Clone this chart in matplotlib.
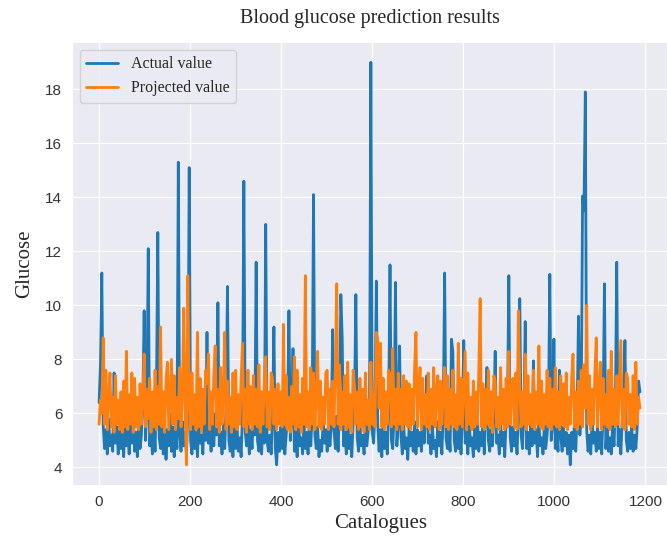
import numpy as np
import seaborn as sns
import matplotlib
matplotlib.use('Agg')
import matplotlib.pyplot as plt

# catalogue index: every 3rd sample
catalogue = np.arange(0, 1190, 3)

actual = [
    6.4, 7.8, 11.2, 5.6, 4.7, 5.4, 4.5, 5.8, 4.8, 5.2, 4.6, 7.5, 4.9, 5.5, 4.5, 5.7, 4.7, 5.3, 4.4, 5.9,
    4.8, 5.4, 4.5, 5.6, 4.9, 6.1, 4.6, 5.3, 4.4, 5.8, 4.7, 5.2, 6.4, 9.8, 5.0, 6.3, 12.1, 4.8, 5.5, 4.5,
    5.7, 4.6, 6.8, 12.7, 5.1, 4.7, 5.6, 4.5, 5.9, 4.3, 5.4, 4.8, 6.0, 4.6, 5.5, 4.4, 5.8, 4.7, 15.3, 5.2,
    4.6, 5.7, 4.8, 5.3, 4.5, 6.2, 15.1, 5.0, 4.5, 5.8, 4.7, 5.3, 4.4, 5.6, 4.9, 5.2, 4.5, 6.1, 5.0, 9.0,
    4.9, 5.4, 4.6, 5.7, 4.8, 6.0, 5.2, 10.1, 4.8, 5.3, 4.5, 5.6, 4.7, 6.3, 10.7, 5.0, 4.6, 5.5, 4.4, 5.9,
    4.7, 5.5, 4.6, 5.1, 4.4, 6.0, 14.6, 5.3, 4.8, 5.6, 4.5, 5.4, 4.7, 5.9, 5.2, 11.6, 5.0, 4.6, 5.4, 4.5,
    5.7, 4.9, 13.0, 5.0, 4.6, 5.2, 4.5, 5.8, 9.2, 4.7, 4.1, 5.3, 4.6, 5.5, 4.7, 5.6, 4.5, 5.2, 6.0, 9.8,
    5.0, 5.9, 8.4, 4.6, 5.3, 4.4, 5.8, 4.8, 5.1, 4.5, 5.6, 4.7, 5.3, 4.5, 5.9, 4.8, 6.0, 14.1, 5.2, 4.7,
    5.5, 4.4, 5.0, 4.6, 5.7, 4.9, 5.4, 4.6, 5.8, 4.8, 5.5, 9.1, 5.4, 4.7, 5.9, 4.6, 6.2, 10.4, 8.8, 4.8,
    5.3, 4.5, 5.9, 4.7, 5.2, 4.4, 5.6, 6.3, 10.4, 5.1, 4.6, 5.5, 4.8, 5.2, 4.5, 5.7, 4.8, 5.3, 6.0, 19.0,
    5.3, 4.9, 6.1, 10.9, 5.6, 4.6, 5.4, 4.4, 5.8, 4.7, 5.3, 4.5, 6.2, 11.5, 5.0, 4.7, 6.0, 10.85, 4.8, 5.6,
    8.5, 5.2, 4.5, 5.6, 4.7, 5.1, 4.3, 5.5, 4.8, 5.3, 4.6, 5.7, 4.5, 5.4, 4.8, 5.3, 4.6, 5.7, 4.9, 6.0,
    7.4, 4.9, 5.2, 4.5, 5.6, 4.7, 5.0, 4.4, 5.7, 4.8, 5.3, 4.5, 6.1, 11.2, 5.1, 4.7, 5.5, 4.6, 8.75, 8.3,
    5.0, 4.6, 5.4, 4.7, 5.8, 4.5, 5.9, 8.7, 4.9, 5.3, 4.5, 5.7, 4.8, 5.1, 4.4, 5.5, 4.7, 5.9, 4.6, 5.3,
    4.8, 5.6, 4.5, 6.2, 7.7, 5.0, 4.6, 5.4, 4.8, 6.0, 8.3, 4.9, 5.2, 4.5, 5.6, 4.8, 5.3, 4.4, 5.7, 6.1,
    11.1, 5.1, 4.6, 5.5, 4.8, 5.3, 4.5, 6.0, 10.25, 5.2, 4.7, 6.1, 9.4, 4.7, 5.3, 4.5, 5.6, 4.8, 7.95, 4.9,
    5.4, 4.4, 5.7, 4.8, 5.1, 4.5, 5.6, 4.7, 5.2, 6.1, 11.15, 5.0, 5.6, 8.75, 4.7, 5.4, 4.6, 7.6, 5.2, 4.6,
    5.5, 4.8, 5.3, 4.5, 5.2, 4.1, 5.3, 4.7, 5.6, 4.6, 6.0, 9.6, 5.2, 6.2, 14.05, 13.5, 17.9, 5.4, 4.6, 5.2,
    4.5, 5.8, 4.9, 5.3, 4.6, 5.5, 4.7, 5.3, 4.5, 6.0, 10.8, 4.7, 5.5, 4.6, 5.1, 4.5, 5.6, 4.8, 6.2, 11.6,
    4.8, 5.4, 4.5, 5.7, 6.1, 8.7, 5.0, 4.6, 5.3, 4.7, 5.5, 4.6, 5.2, 4.7, 5.5, 7.2, 6.8,
]

projected = [
    5.6, 6.5, 6.0, 8.8, 5.6, 7.6, 5.4, 6.7, 7.5, 5.5, 6.6, 5.3, 7.4, 5.6, 6.5, 5.4, 6.8, 5.3, 7.2, 5.5,
    8.3, 5.4, 6.7, 5.6, 7.5, 5.3, 7.3, 5.5, 6.6, 5.4, 7.1, 5.6, 6.5, 8.2, 5.5, 6.9, 5.8, 7.3, 5.3, 6.8,
    5.5, 7.6, 5.4, 7.0, 5.6, 9.2, 5.5, 6.8, 5.3, 7.2, 7.9, 5.4, 6.7, 8.0, 5.6, 7.4, 5.4, 6.6, 5.8, 7.7,
    5.5, 6.8, 9.9, 6.0, 4.1, 11.1, 6.6, 5.4, 7.5, 5.6, 6.7, 5.4, 9.0, 5.5, 7.3, 5.3, 6.9, 5.6, 7.6, 7.1,
    8.2, 5.4, 6.8, 5.6, 7.4, 8.5, 5.5, 6.9, 5.3, 7.7, 5.6, 6.8, 9.0, 5.4, 7.2, 5.6, 6.6, 5.3, 7.5, 5.5,
    7.6, 5.4, 6.7, 5.6, 7.3, 8.6, 5.5, 6.9, 5.3, 7.6, 5.6, 7.0, 5.4, 7.4, 5.6, 6.9, 5.5, 7.8, 5.3, 6.8,
    5.6, 7.2, 8.1, 5.5, 6.8, 5.4, 7.5, 7.3, 5.6, 6.9, 5.4, 7.1, 5.6, 6.8, 5.5, 9.3, 5.6, 7.4, 5.4, 6.6,
    5.3, 7.0, 5.6, 8.1, 5.4, 7.6, 5.5, 6.7, 5.3, 7.3, 5.6, 11.1, 5.5, 6.8, 5.4, 7.7, 5.6, 7.5, 5.4, 6.7,
    8.3, 5.5, 7.2, 5.4, 6.6, 5.6, 7.5, 7.6, 5.4, 6.9, 5.6, 7.2, 5.5, 7.8, 10.8, 5.6, 7.8, 5.4, 6.8, 5.6,
    7.4, 5.4, 7.9, 5.5, 6.7, 5.3, 7.6, 7.0, 5.6, 6.8, 5.4, 7.3, 5.5, 6.9, 5.3, 7.5, 5.6, 6.5, 5.4, 7.9,
    5.6, 6.8, 5.5, 9.0, 8.7, 6.2, 8.6, 5.5, 7.3, 5.4, 6.8, 5.6, 7.6, 7.4, 5.5, 8.4, 5.6, 6.9, 5.4, 7.5,
    5.6, 6.9, 5.4, 7.4, 5.6, 7.2, 5.5, 7.1, 5.4, 6.9, 5.6, 7.7, 9.0, 5.5, 6.8, 7.7, 5.4, 7.3, 5.6, 6.7,
    5.5, 7.5, 5.4, 6.9, 5.6, 7.7, 5.5, 6.8, 7.4, 5.4, 7.2, 5.6, 6.7, 7.7, 5.5, 7.4, 5.4, 6.9, 5.6, 7.6,
    5.5, 6.7, 5.4, 8.6, 5.6, 7.3, 5.5, 6.9, 8.3, 5.4, 7.5, 5.6, 6.6, 5.4, 7.2, 5.5, 6.8, 5.6, 7.6, 10.25,
    5.5, 7.1, 5.4, 6.9, 5.6, 7.6, 5.5, 6.8, 5.3, 7.4, 7.2, 5.5, 6.6, 5.4, 7.7, 5.6, 6.9, 5.4, 7.3, 5.5,
    8.3, 5.6, 6.8, 7.3, 5.5, 7.5, 5.4, 9.8, 7.0, 5.5, 6.8, 5.6, 8.2, 5.4, 7.4, 5.6, 6.7, 5.5, 7.6, 5.4,
    6.8, 5.6, 8.5, 5.5, 7.2, 5.4, 6.7, 5.6, 7.6, 5.5, 7.3, 5.4, 6.9, 5.6, 7.7, 5.5, 6.8, 5.4, 7.4, 5.6,
    7.1, 5.5, 7.5, 5.4, 6.6, 5.6, 7.3, 8.2, 5.5, 6.8, 5.4, 7.2, 5.6, 7.6, 5.5, 7.8, 6.2, 10.0, 5.6, 7.4,
    5.4, 6.9, 5.6, 7.5, 8.8, 5.5, 6.8, 7.9, 5.4, 7.3, 5.6, 6.7, 5.5, 7.6, 5.4, 8.3, 5.6, 6.9, 5.5, 7.4,
    5.6, 7.2, 8.7, 5.5, 6.9, 5.4, 7.5, 7.3, 5.6, 6.7, 5.5, 7.4, 5.4, 7.9, 5.6, 6.6, 6.2,
]

x_ticks = [0, 200, 400, 600, 800, 1000, 1200]
y_ticks = [4, 6, 8, 10, 12, 14, 16, 18]

sns.set_style('darkgrid')
serif = ['Liberation Serif', 'DejaVu Serif']
sans = ['Liberation Sans Narrow', 'Liberation Sans', 'DejaVu Sans']

fig = plt.figure(figsize=(6.67, 5.4), dpi=100)
ax = fig.add_axes([0.108, 0.102, 0.892, 0.820])

ax.plot(catalogue, actual, color='#1f77b4', lw=2.0, label='Actual value')
ax.plot(catalogue, projected, color='#ff7f0e', lw=2.0, label='Projected value')

ax.set_xticks(x_ticks)
ax.set_yticks(y_ticks)
for lab in ax.get_xticklabels() + ax.get_yticklabels():
    lab.set_family(sans)
    lab.set_fontsize(11)
    lab.set_color('#333333')

ax.set_title('Blood glucose prediction results', family=serif, fontsize=14.5, pad=14)
ax.set_xlabel('Catalogues', family=serif, fontsize=15, labelpad=4, x=0.518)
ax.set_ylabel('Glucose', family=serif, fontsize=15, labelpad=8)

leg = ax.legend(loc='upper left', prop={'family': serif, 'size': 11.5})
for line in leg.get_lines():
    line.set_linewidth(2.0)

fig.savefig('out.png', dpi=100)
